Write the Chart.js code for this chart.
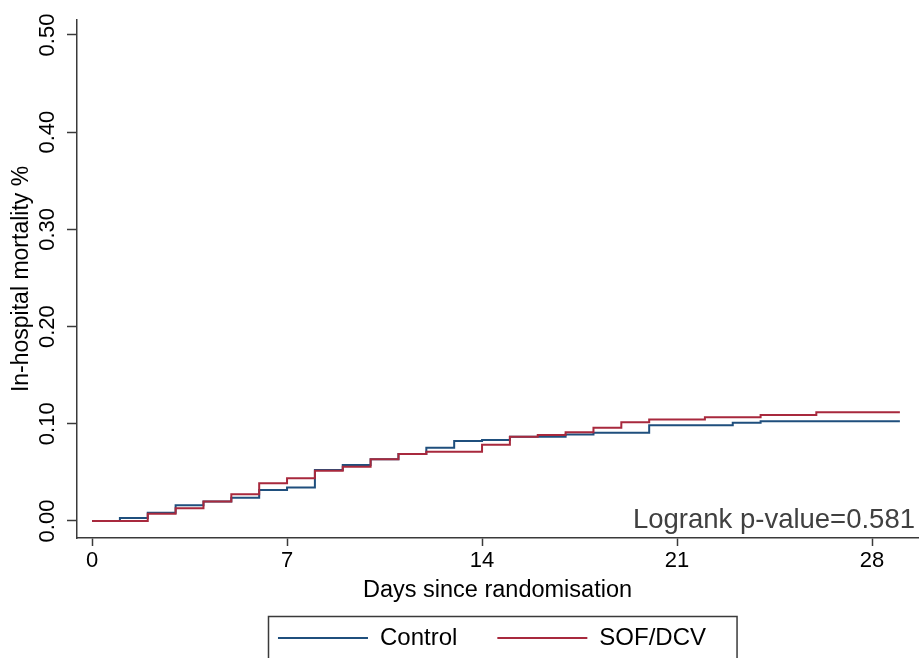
<!DOCTYPE html>
<html>
<head>
<meta charset="utf-8">
<script src="https://cdn.jsdelivr.net/npm/chart.js@4/dist/chart.umd.min.js"></script>
<style>
  html, body { margin: 0; padding: 0; background: #ffffff; }
  #wrap { width: 922px; height: 658px; }
</style>
</head>
<body>
<div id="wrap"><canvas id="c" width="922" height="658"></canvas></div>
<script>
// ---- data ----
const days = [0,1,2,3,4,5,6,7,8,9,10,11,12,13,14,15,16,17,18,19,20,21,22,23,24,25,26,27,28,29];
const controlValues = [0, 0.003, 0.0085, 0.0162, 0.020, 0.024, 0.032, 0.0345, 0.0525, 0.0576,
  0.0635, 0.069, 0.0754, 0.0823, 0.0833, 0.0867, 0.0867, 0.089, 0.0908, 0.0908,
  0.0985, 0.0985, 0.0985, 0.101, 0.1025, 0.1025, 0.1025, 0.1025, 0.1025, 0.1025];
const sofdcvValues = [0, 0, 0.0075, 0.013, 0.020, 0.0275, 0.0388, 0.044, 0.0518, 0.0559,
  0.0635, 0.069, 0.0713, 0.0713, 0.0785, 0.0867, 0.0885, 0.0912, 0.096, 0.1015,
  0.1045, 0.1045, 0.1067, 0.1067, 0.109, 0.109, 0.1118, 0.1118, 0.1118, 0.1118];
const seriesLabels = ['Control', 'SOF/DCV'];
const xTickValues = [0, 7, 14, 21, 28];
const yTickValues = [0, 0.1, 0.2, 0.3, 0.4, 0.5];
const xTitle = 'Days since randomisation';
const yTitle = 'In-hospital mortality %';
const annotationText = 'Logrank p-value=0.581';

// ---- styles ----
const FONT = '"Liberation Sans", Arial, Helvetica, sans-serif';
const AXIS = '#3a3a3a';
const BLUE = '#1f4f7d';
const RED = '#a8293d';

function toPoints(vals) { return days.map((d, i) => ({ x: d, y: vals[i] })); }

const extras = {
  id: 'extras',
  afterLayout(chart) {
    const lg = chart.legend;
    if (lg) { lg.left -= 11; lg.top += 2; lg.bottom += 2; }
  },
  beforeDraw(chart) {
    const ctx = chart.ctx;
    ctx.save();
    ctx.fillStyle = '#ffffff';
    ctx.fillRect(0, 0, chart.width, chart.height);
    ctx.restore();
  },
  afterDraw(chart) {
    const ctx = chart.ctx;
    const a = chart.chartArea;
    ctx.save();
    ctx.font = '27.5px ' + FONT;
    ctx.fillStyle = '#404040';
    ctx.textAlign = 'right';
    ctx.textBaseline = 'alphabetic';
    ctx.fillText(annotationText, a.right - 3, a.bottom - 10);
    // legend frame
    const lg = chart.legend;
    if (lg && lg.legendHitBoxes && lg.legendHitBoxes.length) {
      const hb = lg.legendHitBoxes;
      const first = hb[0], last = hb[hb.length - 1];
      const cy = first.top + first.height / 2;
      const l = first.left - 9.5, r = last.left + last.width + 31;
      const t = cy - 22;
      ctx.strokeStyle = AXIS;
      ctx.lineWidth = 1.5;
      ctx.strokeRect(Math.round(l) + 0.5, Math.round(t) + 0.5, r - l, chart.height + 10 - t);
    }
    ctx.restore();
  }
};

new Chart(document.getElementById('c'), {
  type: 'line',
  data: {
    datasets: [
      { label: seriesLabels[0], data: toPoints(controlValues), borderColor: BLUE, backgroundColor: BLUE,
        borderWidth: 2, pointRadius: 0, stepped: true, fill: false, order: 1 },
      { label: seriesLabels[1], data: toPoints(sofdcvValues), borderColor: RED, backgroundColor: RED,
        borderWidth: 2, pointRadius: 0, stepped: true, fill: false, order: 0 }
    ]
  },
  options: {
    responsive: false,
    devicePixelRatio: 1,
    animation: false,
    events: [],
    layout: { padding: { left: 0, right: 4, top: 20, bottom: 0 } },
    plugins: {
      tooltip: { enabled: false },
      title: { display: false },
      legend: {
        display: true,
        position: 'bottom',
        fullSize: false,
        labels: {
          usePointStyle: true,
          pointStyle: 'line',
          pointStyleWidth: 90,
          padding: 40,
          color: '#000000',
          font: { family: FONT, size: 24 },
          sort: (a, b) => a.datasetIndex - b.datasetIndex
        }
      }
    },
    scales: {
      x: {
        type: 'linear',
        min: -0.54,
        max: 29.65,
        afterBuildTicks: s => { s.ticks = xTickValues.map(v => ({ value: v })); },
        afterFit: s => { s.height = 46; },
        grid: { display: true, drawOnChartArea: false, drawTicks: true, tickLength: 8, tickColor: AXIS, tickWidth: 1.5 },
        border: { display: true, color: AXIS, width: 1.5 },
        ticks: { color: '#000000', font: { family: FONT, size: 22 }, padding: 2, maxRotation: 0, minRotation: 0,
          callback: v => String(v) },
        title: { display: true, text: xTitle, color: '#000000', font: { family: FONT, size: 23.5 },
          padding: { top: 0, bottom: -21 } }
      },
      y: {
        type: 'linear',
        min: -0.0175,
        max: 0.5154,
        afterBuildTicks: s => { s.ticks = yTickValues.map(v => ({ value: v })); },
        afterFit: s => { s.width = 77; },
        grid: { display: true, drawOnChartArea: false, drawTicks: true, tickLength: 10, tickColor: AXIS, tickWidth: 1.5 },
        border: { display: true, color: AXIS, width: 1.5 },
        ticks: { color: '#000000', font: { family: FONT, size: 22 }, padding: -2, minRotation: 90, maxRotation: 90,
          crossAlign: 'center', callback: v => Number(v).toFixed(2) },
        title: { display: true, text: yTitle, color: '#000000', font: { family: FONT, size: 23 },
          padding: { top: 8, bottom: 0 } }
      }
    }
  },
  plugins: [extras]
});
</script>
</body>
</html>
